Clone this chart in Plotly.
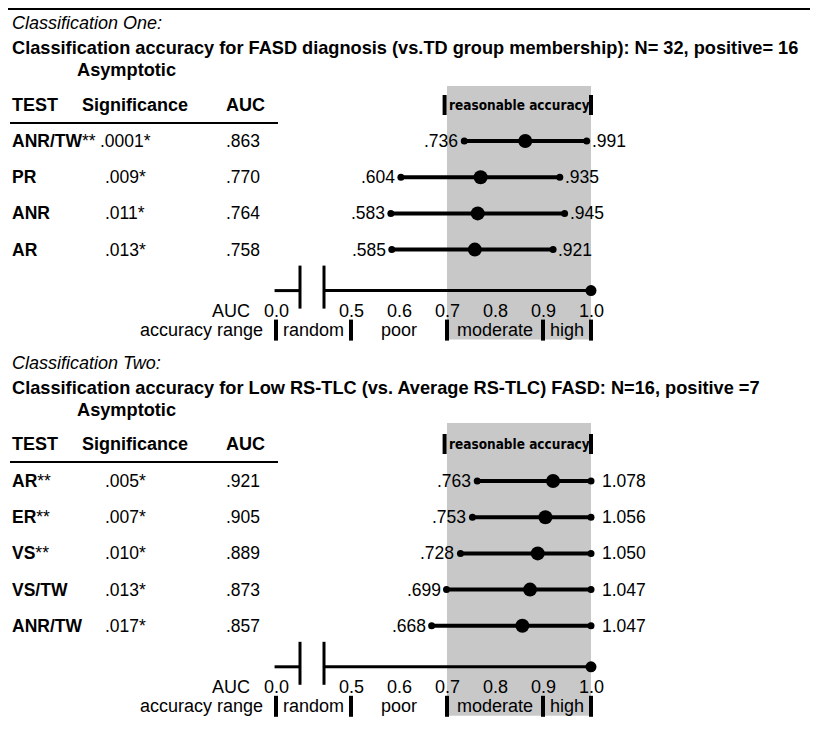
import plotly.graph_objects as go

# ---------------- data ----------------
p1_label = "Classification One:"
p1_title = "Classification accuracy for FASD diagnosis (vs.TD group membership): N= 32, positive= 16"
p1_tests = ["ANR/TW", "PR", "ANR", "AR"]
p1_stars = ["**", "", "", ""]
p1_sig = [".0001*", ".009*", ".011*", ".013*"]
p1_auc = [0.863, 0.770, 0.764, 0.758]
p1_lo = [0.736, 0.604, 0.583, 0.585]
p1_hi = [0.991, 0.935, 0.945, 0.921]

p2_label = "Classification Two:"
p2_title = "Classification accuracy for Low RS-TLC (vs. Average RS-TLC) FASD: N=16, positive =7"
p2_tests = ["AR", "ER", "VS", "VS/TW", "ANR/TW"]
p2_stars = ["**", "**", "**", "", ""]
p2_sig = [".005*", ".007*", ".010*", ".013*", ".017*"]
p2_auc = [0.921, 0.905, 0.889, 0.873, 0.857]
p2_lo = [0.763, 0.753, 0.728, 0.699, 0.668]
p2_hi = [1.078, 1.056, 1.050, 1.047, 1.047]

axis_ticks = [0.0, 0.5, 0.6, 0.7, 0.8, 0.9, 1.0]
tick_labels = ["0.0", "0.5", "0.6", "0.7", "0.8", "0.9", "1.0"]
range_names = ["random", "poor", "moderate", "high"]
range_bounds = [0.0, 0.5, 0.7, 0.9, 1.0]
reasonable = [0.7, 1.0]

# ---------------- layout helpers ----------------
W, H = 818, 739
OFF = 8  # page margin compensation (screen px = OFF + figure px)
FONT = "Liberation Sans, Arial, Helvetica, sans-serif"
NARROW = "DejaVu Sans Condensed, Liberation Sans Narrow, Arial Narrow, sans-serif"
FS = 18
GRAY = "rgb(200,200,200)"
BREAK = 0.34375      # displayed position of the 0.0 tick (broken axis)
BREAK_A = 0.39375
BREAK_B = 0.44375


def disp(v):
    return v if v >= 0.45 else BREAK + v


def fmt(v):
    s = f"{v:.3f}"
    return s[1:] if s.startswith("0") else s


def px(x):
    return (x - OFF) / W


fig = go.Figure()
ann = []
shapes = []


def text(x, y, s, anchor="left", size=FS, ref="paper", family=FONT, xshift=0):
    ann.append(dict(x=px(x) if ref == "paper" else x, y=y, xref=ref, yref="y", text=s,
                    showarrow=False, xanchor=anchor, yanchor="middle", xshift=xshift,
                    font=dict(family=family, size=size, color="black")))


def line(x0, y0, x1, y1, w, xref="x"):
    shapes.append(dict(type="line", xref=xref, yref="y", x0=x0, y0=y0, x1=x1, y1=y1,
                       line=dict(color="black", width=w)))


# top rule
line(0, OFF + 1, 1, OFF + 1, 2, xref="paper")

panels = [
    dict(label=p1_label, title=p1_title, tests=p1_tests, stars=p1_stars, sig=p1_sig,
         auc=p1_auc, lo=p1_lo, hi=p1_hi, y_lab=23, y_title=48, y_asym=70, y_head=105,
         y_row0=141, gray_top=86, right_gap=3),
    dict(label=p2_label, title=p2_title, tests=p2_tests, stars=p2_stars, sig=p2_sig,
         auc=p2_auc, lo=p2_lo, hi=p2_hi, y_lab=363, y_title=388, y_asym=410, y_head=444,
         y_row0=481, gray_top=423, right_gap=9),
]
ROW = 36.2

for p in panels:
    n = len(p["tests"])
    rows_y = [p["y_row0"] + i * ROW for i in range(n)]
    y_axis = rows_y[-1] + 41
    y_tick = y_axis + 20
    y_acc = y_axis + 39
    gray_bot = y_axis + 49

    # gray reasonable-accuracy band
    shapes.append(dict(type="rect", xref="x", yref="y", x0=reasonable[0], x1=reasonable[1],
                       y0=p["gray_top"], y1=gray_bot, fillcolor=GRAY, line=dict(width=0),
                       layer="below"))
    # reasonable accuracy label with brackets
    yh = p["y_head"]
    text((reasonable[0] + reasonable[1]) / 2, yh, "<b>reasonable accuracy</b>",
         anchor="center", size=13.5, ref="x", family=NARROW)
    line(reasonable[0] - 0.005, yh - 10, reasonable[0] - 0.005, yh + 10, 4)
    line(reasonable[1], yh - 10, reasonable[1], yh + 10, 4)

    # headings
    text(10, p["y_lab"], "<i>" + p["label"] + "</i>", size=18)
    text(10, p["y_title"], "<b>" + p["title"] + "</b>", size=18.2)
    text(75, p["y_asym"], "<b>Asymptotic</b>", size=18.2)
    text(10, yh, "<b>TEST</b>")
    text(80, yh, "<b>Significance</b>")
    text(224, yh, "<b>AUC</b>")
    line(px(10), yh + 18, px(278), yh + 18, 2, xref="paper")

    # rows
    for i in range(n):
        y = rows_y[i]
        text(10, y, "<b>" + p["tests"][i] + "</b>" + p["stars"][i], size=17.5)
        text(125, y, p["sig"][i], anchor="center", size=17.5)
        text(224, y, fmt(p["auc"][i]), size=17.5)
        hi_draw = min(p["hi"][i], 1.0)
        fig.add_trace(go.Scatter(x=[p["lo"][i], hi_draw], y=[y, y], mode="lines+markers",
                                 line=dict(color="black", width=4),
                                 marker=dict(size=7, color="black"),
                                 hoverinfo="skip", showlegend=False))
        fig.add_trace(go.Scatter(x=[p["auc"][i]], y=[y], mode="markers",
                                 marker=dict(size=14, color="black"),
                                 hoverinfo="skip", showlegend=False))
        text(p["lo"][i], y, fmt(p["lo"][i]), anchor="right", ref="x", xshift=-4, size=17.5)
        text(hi_draw, y, fmt(p["hi"][i]), anchor="left", ref="x", xshift=p["right_gap"],
             size=17.5)

    # broken axis
    line(disp(0.0) - 0.003, y_axis, BREAK_A, y_axis, 3)
    line(BREAK_A, y_axis - 25, BREAK_A, y_axis + 18, 3)
    line(BREAK_B, y_axis - 25, BREAK_B, y_axis + 18, 3)
    line(BREAK_B, y_axis, 1.0, y_axis, 3)
    fig.add_trace(go.Scatter(x=[1.0], y=[y_axis], mode="markers",
                             marker=dict(size=11, color="black"),
                             hoverinfo="skip", showlegend=False))
    text(252, y_tick, "AUC", anchor="right")
    for v, lab in zip(axis_ticks, tick_labels):
        text(disp(v), y_tick, lab, anchor="center", ref="x")

    # accuracy ranges
    text(265, y_acc, "accuracy range", anchor="right")
    for b in range_bounds:
        line(disp(b), y_acc - 10, disp(b), y_acc + 11, 4)
    for k, name in enumerate(range_names):
        mid = (disp(range_bounds[k]) + disp(range_bounds[k + 1])) / 2
        text(mid, y_acc, name, anchor="center", ref="x")

x_min = 0.7 - (447 - OFF) / 480
x_max = x_min + W / 480
fig.update_layout(
    width=W, height=H, margin=dict(l=0, r=0, t=0, b=0),
    paper_bgcolor="white", plot_bgcolor="white",
    xaxis=dict(range=[x_min, x_max], visible=False, fixedrange=True),
    yaxis=dict(range=[H + OFF, OFF], visible=False, fixedrange=True),
    annotations=ann, shapes=shapes, showlegend=False,
)
fig.write_html("out.html")
